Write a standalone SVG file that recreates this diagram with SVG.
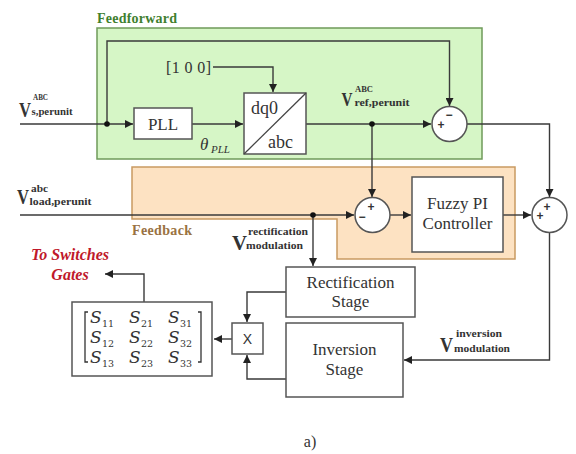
<svg xmlns="http://www.w3.org/2000/svg" width="576" height="454" viewBox="0 0 576 454">
<style>
.ln{fill:none;stroke:#3a3a3a;stroke-width:1.4}
.bx{fill:#fff;stroke:#555;stroke-width:1.5}
.t{font-family:"Liberation Serif",serif;fill:#333}
.b{font-weight:bold}
.c{text-anchor:middle}
.sg{font-family:"Liberation Sans",sans-serif;font-size:12px;font-weight:bold;fill:#333;text-anchor:middle}
.m{font-family:"DejaVu Serif","Liberation Serif",serif;font-style:italic;font-size:17px;fill:#333}
.n{font-family:"DejaVu Serif","Liberation Serif",serif;font-size:9.5px;fill:#333}
.gt{font-family:"Liberation Serif",serif;font-size:16px;font-weight:bold;font-style:italic;fill:#c0182a;text-anchor:middle}
</style>
<defs>
<marker id="ar" viewBox="0 0 10 10" refX="10" refY="5" markerWidth="8" markerHeight="8" markerUnits="userSpaceOnUse" orient="auto">
<path d="M0,0 L10,5 L0,10 z" fill="#222"/>
</marker>
</defs>
<g id="feedforward">
<rect x="97" y="28" width="385" height="131" fill="#d6f6c6" stroke="#6f9a5a" stroke-width="1.5"/>
<text class="t b" x="97" y="23" font-size="14" textLength="80" style="fill:#3f7f2f">Feedforward</text>
</g>
<g id="feedback">
<path d="M132,167 H515 V259 H337 V219 H132 Z" fill="#fde2c2" stroke="#c99a62" stroke-width="1.5"/>
<text class="t b" x="132" y="235" font-size="14" textLength="60" style="fill:#9a7242">Feedback</text>
</g>
<g id="connectors">
<path class="ln" d="M20,124 H133" marker-end="url(#ar)"/>
<path class="ln" d="M107,124 V41 H449.5 V106" marker-end="url(#ar)"/>
<path class="ln" d="M192,124 H243" marker-end="url(#ar)"/>
<path class="ln" d="M213,67 H273 V92" marker-end="url(#ar)"/>
<path class="ln" d="M306,124 H431" marker-end="url(#ar)"/>
<path class="ln" d="M372,124 V197" marker-end="url(#ar)"/>
<path class="ln" d="M467,124 H549.5 V197" marker-end="url(#ar)"/>
<path class="ln" d="M20,215 H354" marker-end="url(#ar)"/>
<path class="ln" d="M313,215 V266" marker-end="url(#ar)"/>
<path class="ln" d="M390,215 H411" marker-end="url(#ar)"/>
<path class="ln" d="M503,215 H531" marker-end="url(#ar)"/>
<path class="ln" d="M549.5,232.5 V360 H404" marker-end="url(#ar)"/>
<path class="ln" d="M286,292 H247 V322" marker-end="url(#ar)"/>
<path class="ln" d="M286,379 H247 V355" marker-end="url(#ar)"/>
<path class="ln" d="M232,339 H214" marker-end="url(#ar)"/>
<path class="ln" d="M144,302 V274 H105" marker-end="url(#ar)"/>
<circle cx="107" cy="124" r="2.8" fill="#111"/>
<circle cx="372" cy="124" r="2.8" fill="#111"/>
<circle cx="313" cy="215" r="2.8" fill="#111"/>
</g>
<g id="input-vs">
<text class="t b" x="19" y="117" font-size="21" textLength="12" lengthAdjust="spacingAndGlyphs">V</text>
<text class="t b" x="33" y="100" font-size="9" textLength="15" lengthAdjust="spacingAndGlyphs">ABC</text>
<text class="t b" x="31.5" y="115" font-size="10.5" textLength="41" lengthAdjust="spacingAndGlyphs">s,perunit</text>
</g>
<g id="input-vload">
<text class="t b" x="17" y="204" font-size="21" textLength="12" lengthAdjust="spacingAndGlyphs">V</text>
<text class="t b" x="31" y="192" font-size="9.5" textLength="17" lengthAdjust="spacingAndGlyphs">abc</text>
<text class="t b" x="29.5" y="205" font-size="10.5" textLength="62" lengthAdjust="spacingAndGlyphs">load,perunit</text>
</g>
<g id="pll">
<rect class="bx" x="134" y="108" width="58" height="31"/>
<text class="t c" x="163" y="130" font-size="17">PLL</text>
</g>
<g id="theta">
<text class="t" x="200" y="150" font-size="17" font-style="italic">θ</text>
<text class="t" x="211" y="153" font-size="11" font-style="italic">PLL</text>
</g>
<g id="const100">
<text class="t" x="166" y="73" font-size="16" textLength="45">[1 0 0]</text>
</g>
<g id="dq0abc">
<rect class="bx" x="244" y="93" width="62" height="61"/>
<line x1="244" y1="154" x2="306" y2="93" stroke="#444" stroke-width="1.3"/>
<text class="t" x="251" y="114" font-size="18">dq0</text>
<text class="t" x="268" y="148" font-size="18">abc</text>
</g>
<g id="vref">
<text class="t b" x="341.5" y="106" font-size="19" textLength="11" lengthAdjust="spacingAndGlyphs">V</text>
<text class="t b" x="355" y="92" font-size="9" textLength="18" lengthAdjust="spacingAndGlyphs">ABC</text>
<text class="t b" x="354.5" y="105.5" font-size="10.5" textLength="55" lengthAdjust="spacingAndGlyphs">ref,perunit</text>
</g>
<g id="sum1">
<circle cx="449.5" cy="124" r="17.5" fill="#fff" stroke="#555" stroke-width="1.5"/>
<text class="sg" x="449" y="119">−</text>
<text class="sg" x="441" y="129">+</text>
</g>
<g id="sum2">
<circle cx="372.5" cy="215" r="17.5" fill="#fff" stroke="#555" stroke-width="1.5"/>
<text class="sg" x="371" y="211">+</text>
<text class="sg" x="362" y="221">−</text>
</g>
<g id="sum3">
<circle cx="549.5" cy="215" r="17.5" fill="#fff" stroke="#555" stroke-width="1.5"/>
<text class="sg" x="547" y="211">+</text>
<text class="sg" x="540" y="220">+</text>
</g>
<g id="fuzzy">
<rect class="bx" x="412" y="177" width="91" height="75"/>
<text class="t c" x="457.5" y="209" font-size="17">Fuzzy PI</text>
<text class="t c" x="457.5" y="229" font-size="17">Controller</text>
</g>
<g id="vrect">
<text class="t b" x="232" y="250" font-size="20" textLength="15" lengthAdjust="spacingAndGlyphs">V</text>
<text class="t b" x="248" y="235" font-size="10.5" textLength="60" lengthAdjust="spacingAndGlyphs">rectification</text>
<text class="t b" x="246" y="249" font-size="10.5" textLength="57" lengthAdjust="spacingAndGlyphs">modulation</text>
</g>
<g id="rectification">
<rect class="bx" x="286" y="267" width="129" height="50"/>
<text class="t c" x="350.5" y="288" font-size="17">Rectification</text>
<text class="t c" x="350.5" y="307" font-size="17">Stage</text>
</g>
<g id="inversion">
<rect class="bx" x="286" y="323" width="117" height="74"/>
<text class="t c" x="344.5" y="355" font-size="17">Inversion</text>
<text class="t c" x="344.5" y="375" font-size="17">Stage</text>
</g>
<g id="vinv">
<text class="t b" x="440" y="352" font-size="20" textLength="13" lengthAdjust="spacingAndGlyphs">V</text>
<text class="t b" x="456" y="337" font-size="10.5" textLength="46" lengthAdjust="spacingAndGlyphs">inversion</text>
<text class="t b" x="454" y="352" font-size="10.5" textLength="56" lengthAdjust="spacingAndGlyphs">modulation</text>
</g>
<g id="mult">
<rect class="bx" x="232" y="323" width="31" height="31"/>
<text x="247.5" y="344" font-family="Liberation Sans,sans-serif" font-size="14" fill="#333" text-anchor="middle">X</text>
</g>
<g id="matrix">
<rect class="bx" x="72" y="302" width="140" height="74"/>
<path d="M88,312 H85 V362 H88 M198,312 H201 V362 H198" fill="none" stroke="#333" stroke-width="1.3"/>
<text class="m" x="90" y="323">S</text><text class="n" x="102" y="327">11</text>
<text class="m" x="129" y="323">S</text><text class="n" x="141" y="327">21</text>
<text class="m" x="168" y="323">S</text><text class="n" x="180" y="327">31</text>
<text class="m" x="90" y="343">S</text><text class="n" x="102" y="347">12</text>
<text class="m" x="129" y="343">S</text><text class="n" x="141" y="347">22</text>
<text class="m" x="168" y="343">S</text><text class="n" x="180" y="347">32</text>
<text class="m" x="90" y="363">S</text><text class="n" x="102" y="367">13</text>
<text class="m" x="129" y="363">S</text><text class="n" x="141" y="367">23</text>
<text class="m" x="168" y="363">S</text><text class="n" x="180" y="367">33</text>
</g>
<g id="gates">
<text class="gt" x="70" y="260">To Switches</text>
<text class="gt" x="70" y="280">Gates</text>
</g>
<g id="caption">
<text class="t c" x="310" y="447" font-size="16">a)</text>
</g>
</svg>
